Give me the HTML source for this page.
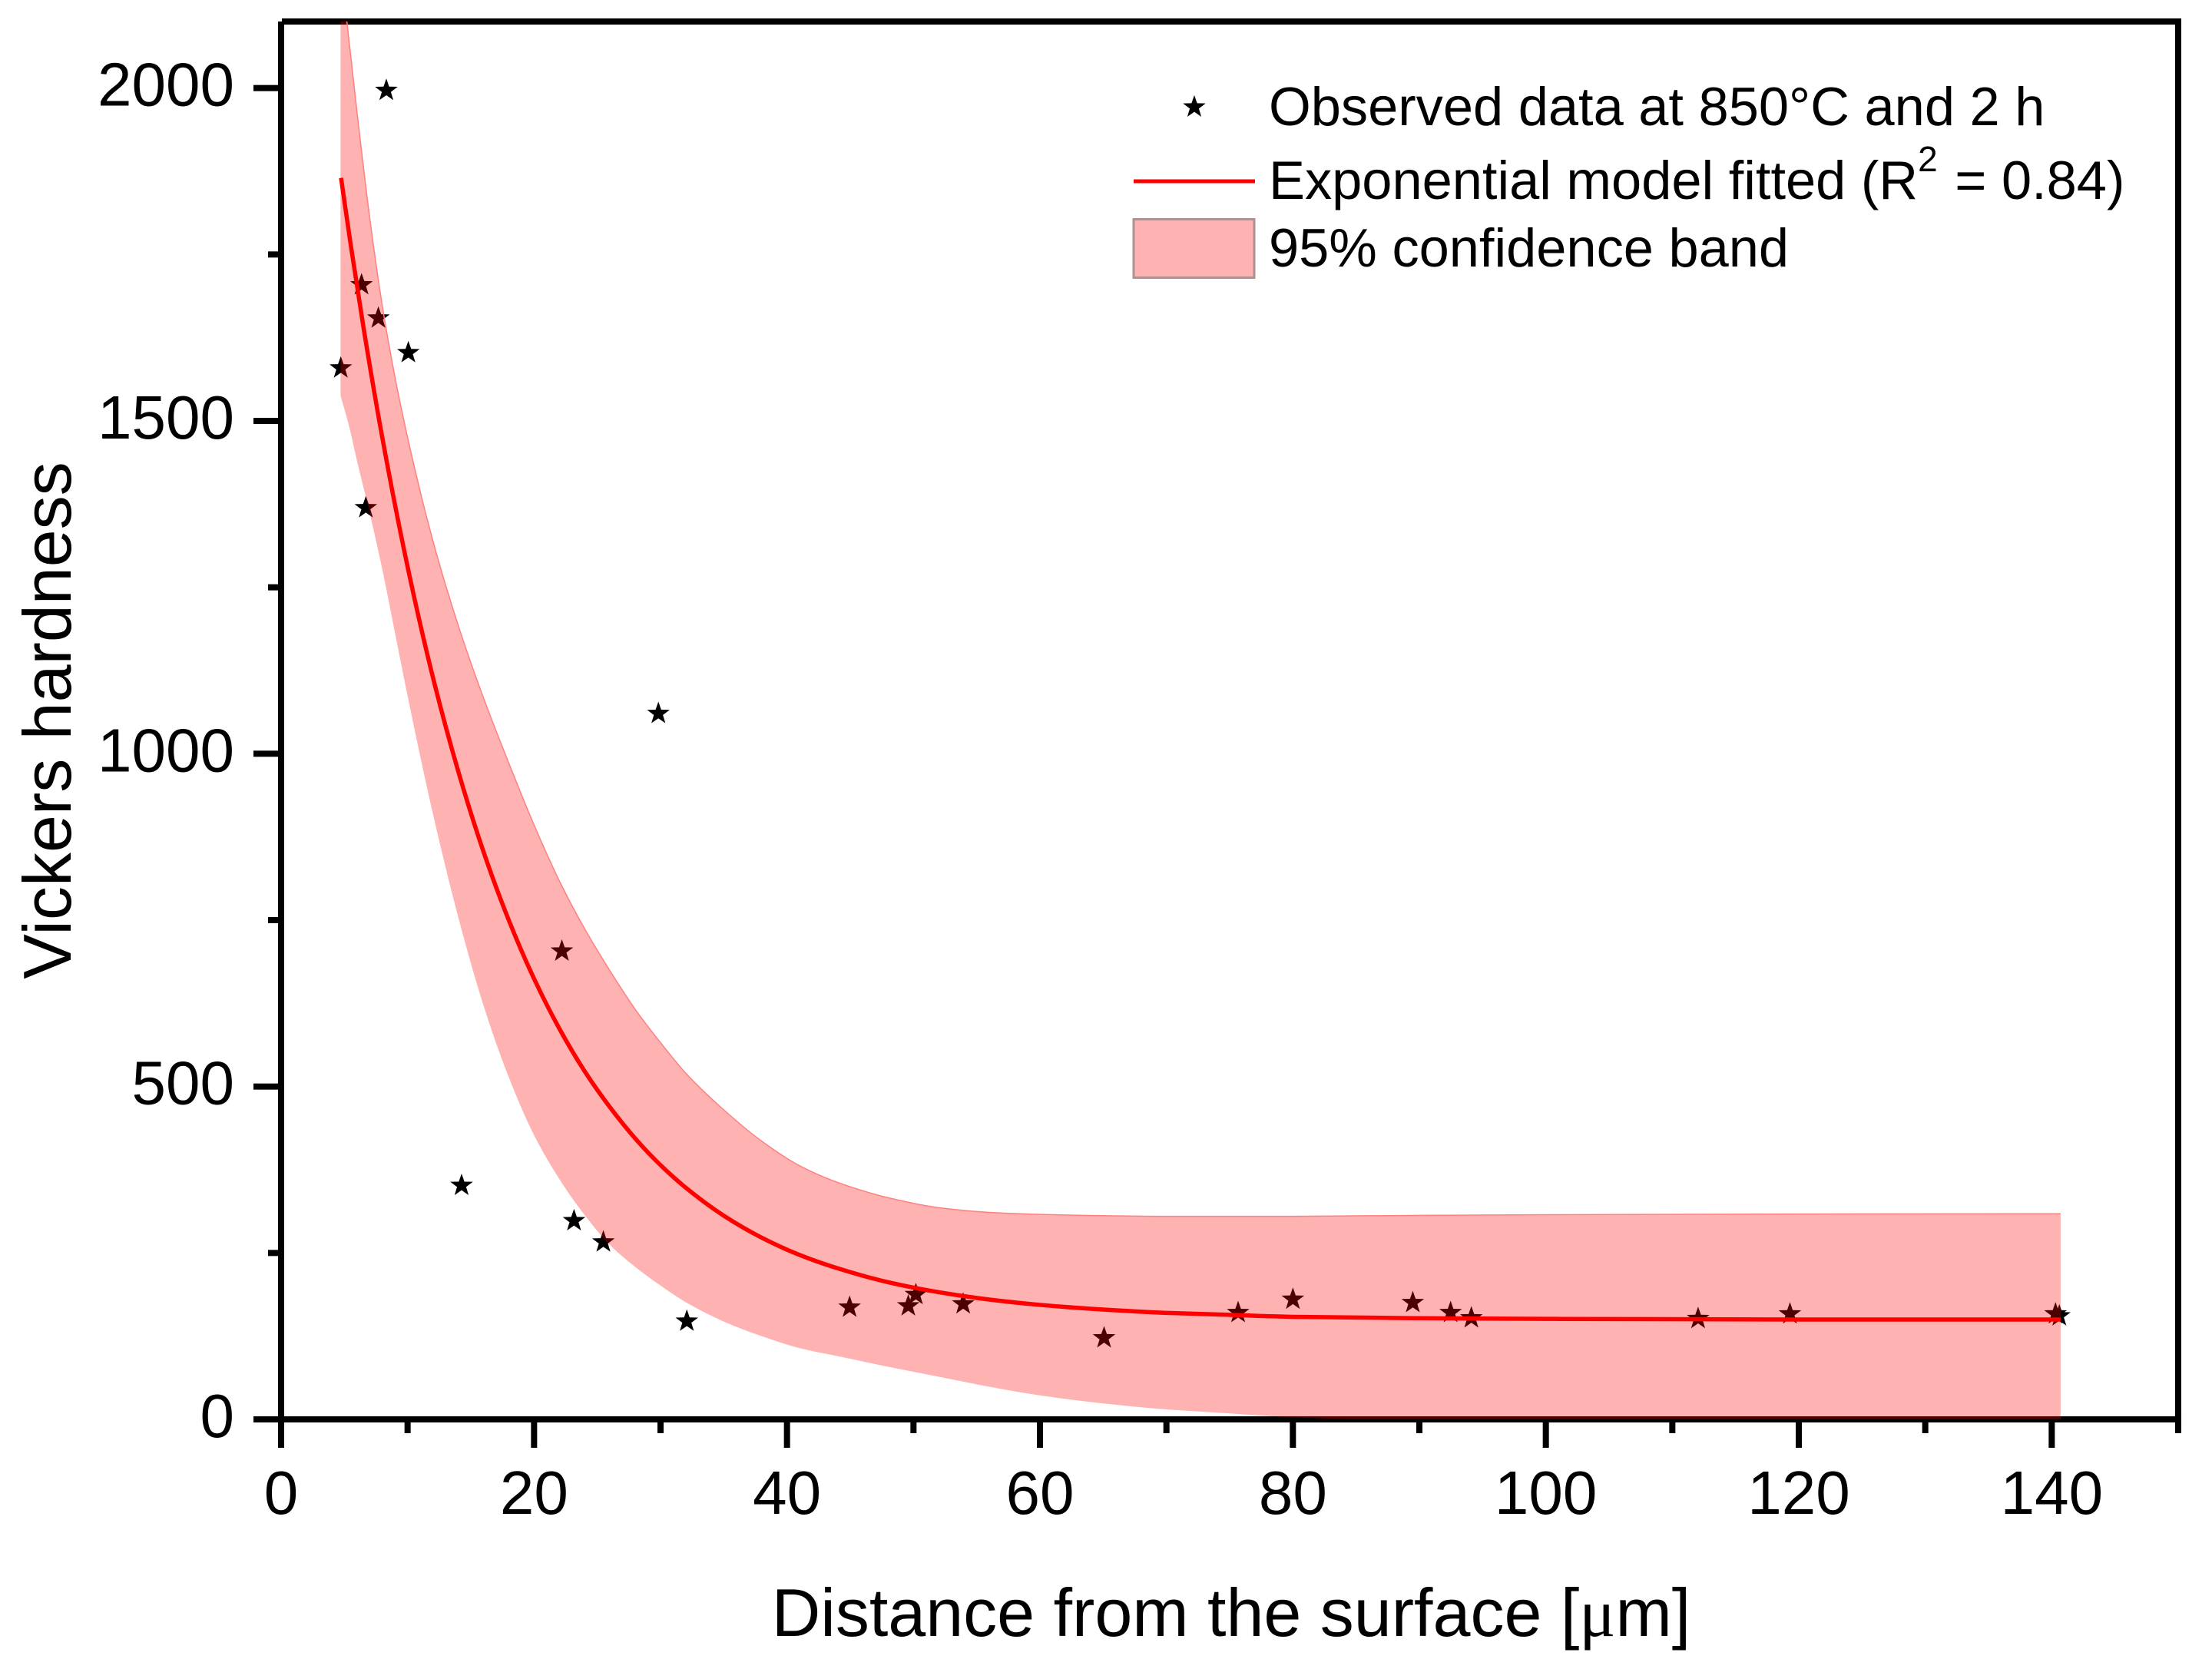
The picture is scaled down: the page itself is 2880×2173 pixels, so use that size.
<!DOCTYPE html>
<html lang="en">
<head>
<meta charset="utf-8">
<title>Vickers hardness vs distance from the surface</title>
<style>
html,body{margin:0;padding:0;background:#fff;}
svg{display:block;}
text{font-family:"Liberation Sans",Arial,sans-serif;fill:#000;}
</style>
</head>
<body>
<svg id="chart" xmlns="http://www.w3.org/2000/svg" width="2880" height="2173" viewBox="0 0 2880 2173">
  <defs>
    <clipPath id="plot-clip"><rect x="366" y="28" width="2470" height="1820"/></clipPath>
  </defs>
  <rect x="0" y="0" width="2880" height="2173" fill="#fff"/>
  <g id="axes"></g>
  <g id="stars"></g>
  <g id="band" clip-path="url(#plot-clip)"></g>
  <g id="fit"></g>
  <g id="labels"></g>

  <text x="1603" y="2130" font-size="88" text-anchor="middle">Distance from the surface [<tspan font-family="'Liberation Serif',serif">μ</tspan>m]</text>
  <text transform="translate(92 938) rotate(-90)" font-size="88" text-anchor="middle">Vickers hardness</text>

  <g>
    <polygon id="legend-star" fill="#000" points=""/>
    <text x="1652" y="163" font-size="70.4">Observed data at 850°C and 2 h</text>
    <rect x="1476" y="233.5" width="158" height="5" fill="#f00"/>
    <text x="1652" y="259" font-size="70.4">Exponential model fitted (R<tspan font-size="46" dy="-36">2</tspan><tspan dy="36" dx="3"> = 0.84)</tspan></text>
    <rect x="1476" y="285.5" width="157" height="76" fill="#ffb2b2" stroke="#b09090" stroke-width="3"/>
    <text x="1652" y="347" font-size="70.4">95% confidence band</text>
  </g>
</svg>
<script>
// ---- chart data ----
const obsDistance = [4.72,6.36,6.70,7.69,8.32,10.06,14.27,22.2,23.16,25.48,29.83,32.08,44.95,49.59,50.19,53.93,65.07,75.67,80.0,89.48,92.47,94.11,112.04,119.3,140.3,140.6];
const obsHardness = [1581,1706,1371,1656,1998,1604,353,705,300,268,1062,149,170,172,189,175,124,162,182,177,162,154,153,160,160,157];

const fitDistance = [4.74,5.5,6.5,8,10,12,14,16,18,20,22,24,26,28,30,32,35,38,41,44,48,52,56,60,65,70,75,80,90,100,120,140.7];
const fitHardness = [1865,1765,1642,1475,1281,1115,974,853,750,662,587,523,469,422,382,348,306,273,247,227,206,191,180,172,165,160,157,154,152,151,150,150];

const upperDistance = [4.7,5.2,6,7,8,9,10,12,14,16,18,20,22,24,26,28,30,32,35,38,41,44,48,52,56,60,65,70,75,80,90,100,120,140.7];
const upperHardness = [2195,2100,1964,1806,1673,1566,1475,1320,1193,1084,986,893,809,737,674,616,566,520,465,418,381,356,333,318,311,308,306,305,305,305,306.5,307.5,308.5,309];

const lowerDistance = [4.7,5.4,6,7,8,9,10,12,14,16,18,20,22,24,26,28,30,32,35,38,41,44,48,52,56,60,65,70,75,80,90,100,120,140.7];
const lowerHardness = [1538,1490,1440,1362,1277,1182,1087,910,755,622,514,427,361,307,262,229,201,176,147,125,107,95,79,64,49,36,24,15,9,3,-2.5,-5.5,-8.5,-9];

const xMajorTicks = [0,20,40,60,80,100,120,140];
const xMinorTicks = [10,30,50,70,90,110,130,150];
const yMajorTicks = [0,500,1000,1500,2000];
const yMinorTicks = [250,750,1250,1750];

// ---- axis functions ----
const X0 = 366, X_PER_UNIT = 16.4667, Y0 = 1848, Y_PER_UNIT = 0.86667;
function xScale(v){ return X0 + v * X_PER_UNIT; }
function yScale(v){ return Y0 - v * Y_PER_UNIT; }

const NS = 'http://www.w3.org/2000/svg';
function mk(tag, parent){ const el = document.createElementNS(NS, tag); parent.appendChild(el); return el; }

function hermite(px, py){
  const n = px.length, d = [], m = [];
  for (let i = 0; i < n - 1; i++) d[i] = (py[i+1] - py[i]) / (px[i+1] - px[i]);
  m[0] = d[0]; m[n-1] = d[n-2];
  for (let i = 1; i < n - 1; i++) {
    if (d[i-1] * d[i] <= 0) { m[i] = 0; continue; }
    const h0 = Math.abs(px[i] - px[i-1]), h1 = Math.abs(px[i+1] - px[i]);
    const w1 = 2*h1 + h0, w2 = h1 + 2*h0;
    m[i] = (w1 + w2) / (w1 / d[i-1] + w2 / d[i]);
  }
  let s = '';
  for (let i = 0; i < n - 1; i++) {
    const h = px[i+1] - px[i];
    s += ' C' + (px[i] + h/3).toFixed(2) + ' ' + (py[i] + m[i]*h/3).toFixed(2) + ' '
       + (px[i+1] - h/3).toFixed(2) + ' ' + (py[i+1] - m[i+1]*h/3).toFixed(2) + ' '
       + px[i+1].toFixed(2) + ' ' + py[i+1].toFixed(2);
  }
  return s;
}
function starPoints(cx, cy){
  const R = 15.5, r = 6.2, out = [];
  const oy = cy + 1.4;
  for (let i = 0; i < 10; i++) {
    const a = -Math.PI/2 + i * Math.PI/5, q = i % 2 ? r : R;
    out.push((cx + q*Math.cos(a)).toFixed(2) + ',' + (oy + q*Math.sin(a)).toFixed(2));
  }
  return out.join(' ');
}
function rectOn(parent, x, y, w, h){
  const el = mk('rect', parent);
  el.setAttribute('x', x); el.setAttribute('y', y);
  el.setAttribute('width', w); el.setAttribute('height', h);
  el.setAttribute('fill', '#000');
  return el;
}

// ---- axes ----
const axes = document.getElementById('axes');
const SPINE = 8, HALF = 4;
const spineLeft = rectOn(axes, X0 - HALF, 28, SPINE, Y0 - 28);


const spineBottom = rectOn(axes, X0, Y0 - HALF, xScale(150) + HALF - X0, SPINE);


const spineTop = rectOn(axes, X0 + 1, yScale(2100) - HALF, xScale(150) + HALF - X0 - 1, SPINE);


const spineRight = rectOn(axes, xScale(150) - HALF, 28, SPINE, Y0 - 28);



xMajorTicks.forEach(function(v){
  const t = rectOn(axes, xScale(v) - HALF, Y0, SPINE, 37);
  
  
});
xMinorTicks.forEach(function(v){
  const t = rectOn(axes, xScale(v) - HALF, Y0, SPINE, 18);
  
  
});
yMajorTicks.forEach(function(v){
  const t = rectOn(axes, X0 - 36, yScale(v) - HALF, 36, SPINE);
  
  
});
yMinorTicks.forEach(function(v){
  const t = rectOn(axes, X0 - 17, yScale(v) - HALF, 17, SPINE);
  
  
});

// ---- tick labels ----
const labels = document.getElementById('labels');
xMajorTicks.forEach(function(v){
  const t = mk('text', labels);
  
  
  t.setAttribute('x', xScale(v));
  t.setAttribute('y', 1971);
  t.setAttribute('font-size', 80);
  t.setAttribute('text-anchor', 'middle');
  t.textContent = String(v);
});
yMajorTicks.forEach(function(v){
  const t = mk('text', labels);
  
  
  t.setAttribute('x', 305);
  t.setAttribute('y', yScale(v) + 23);
  t.setAttribute('font-size', 80);
  t.setAttribute('text-anchor', 'end');
  t.textContent = String(v);
});

// ---- observed points ----
const starsG = document.getElementById('stars');
obsDistance.forEach(function(d, i){
  const p = mk('polygon', starsG);
  
  
  p.setAttribute('fill', '#000');
  p.setAttribute('points', starPoints(xScale(d), yScale(obsHardness[i])));
});
document.getElementById('legend-star').setAttribute('points', starPoints(1555, 138));

// ---- confidence band ----
const bandG = document.getElementById('band');
const upX = upperDistance.map(xScale), upY = upperHardness.map(yScale);
const loX = lowerDistance.map(xScale).reverse(), loY = lowerHardness.map(yScale).reverse();
const upSeg = 'M' + upX[0].toFixed(2) + ' ' + upY[0].toFixed(2) + hermite(upX, upY);
const bandFill = mk('path', bandG);


bandFill.setAttribute('d', upSeg + ' L' + loX[0].toFixed(2) + ' ' + loY[0].toFixed(2) + hermite(loX, loY) + ' Z');
bandFill.setAttribute('fill', 'rgb(255,0,0)');
bandFill.setAttribute('fill-opacity', '0.3');
const bandEdge = mk('path', bandG);


bandEdge.setAttribute('d', upSeg);
bandEdge.setAttribute('fill', 'none');
bandEdge.setAttribute('stroke', '#ff8080');
bandEdge.setAttribute('stroke-width', '1.5');

// ---- fitted line ----
const fitG = document.getElementById('fit');
const fX = fitDistance.map(xScale), fY = fitHardness.map(yScale);
const fitPath = mk('path', fitG);


fitPath.setAttribute('d', 'M' + fX[0].toFixed(2) + ' ' + fY[0].toFixed(2) + hermite(fX, fY));
fitPath.setAttribute('fill', 'none');
fitPath.setAttribute('stroke', '#f00');
fitPath.setAttribute('stroke-width', '5.5');
</script>
</body>
</html>
